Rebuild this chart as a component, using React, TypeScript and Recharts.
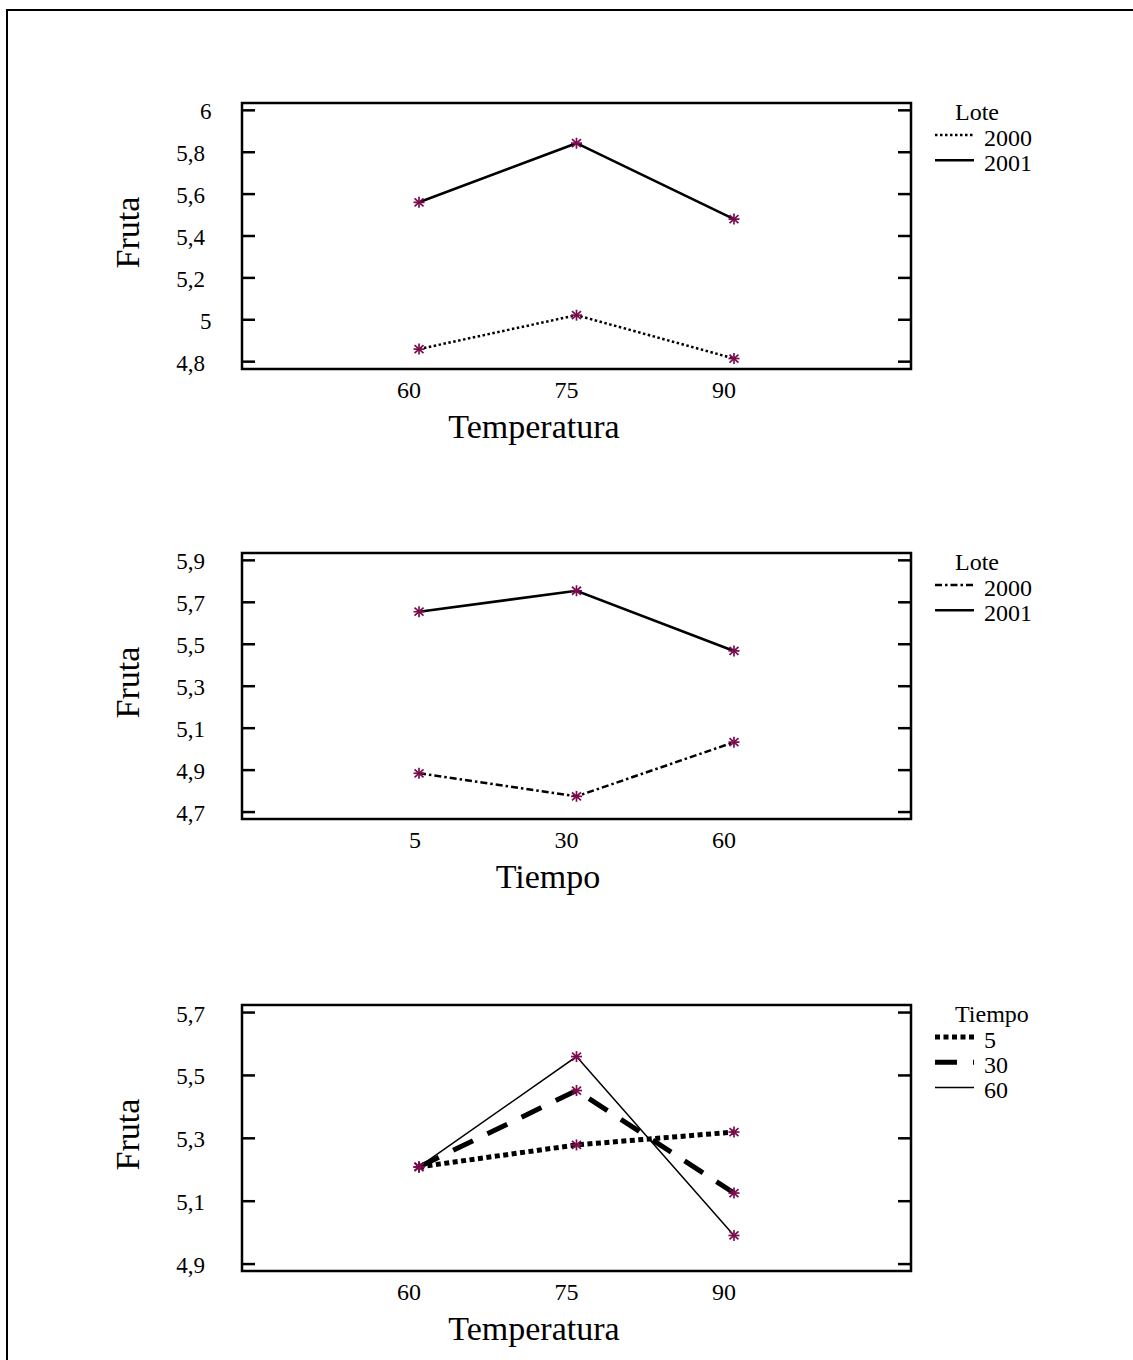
import React from 'react';
import { LineChart, Line, XAxis, YAxis, ReferenceArea, Customized } from 'recharts';

// Category labels of the factors
const temperaturaLabels = ['60', '75', '90'];
const tiempoLabels = ['5', '30', '60'];

// Mean "Fruta" values per factor level
const lote2000PorTemperatura = [4.86, 5.022, 4.815];
const lote2001PorTemperatura = [5.561, 5.843, 5.481];
const lote2000PorTiempo = [4.885, 4.775, 5.033];
const lote2001PorTiempo = [5.655, 5.755, 5.468];
const tiempo5PorTemperatura = [5.209, 5.279, 5.32];
const tiempo30PorTemperatura = [5.209, 5.452, 5.126];
const tiempo60PorTemperatura = [5.209, 5.56, 4.991];

// Y tick values of each panel
const frutaTicksTemperatura = [4.8, 5, 5.2, 5.4, 5.6, 5.8, 6];
const frutaTicksTiempo = [4.7, 4.9, 5.1, 5.3, 5.5, 5.7, 5.9];
const frutaTicksInteraccion = [4.9, 5.1, 5.3, 5.5, 5.7];

// Layout
const W = 1133;
const CH = 460;
const MT = 100;
const PH = 266;
const PL = 242;
const PR = 911;
const YAW = 60;
const XAH = 40;
const X_DOMAIN: [number, number] = [-1.124, 3.124];
const FONT = 'Liberation Serif, Times New Roman, Times, serif';
const MARK = '#7B0D4E';

type Serie = { name: string; values: number[]; dash?: string; width: number };

type PanelProps = {
  top: number;
  categories: string[];
  series: Serie[];
  yTicks: number[];
  yDomain: [number, number];
  xTitle: string;
  xTitleCenter: number;
  legendTitle: string;
};

const textStyle = (size: number): React.CSSProperties => ({ fontFamily: FONT, fontSize: size });

const Asterisk = (p: any) => {
  const { cx, cy } = p;
  if (cx == null || cy == null) return <g />;
  return (
    <g stroke={MARK} strokeWidth={1.7} strokeDasharray="none">
      <line x1={cx - 5.5} x2={cx + 5.5} y1={cy} y2={cy} />
      <line x1={cx} x2={cx} y1={cy - 5.5} y2={cy + 5.5} />
      <line x1={cx - 4.5} y1={cy - 4} x2={cx + 4.5} y2={cy + 4} />
      <line x1={cx - 4.5} y1={cy + 4} x2={cx + 4.5} y2={cy - 4} />
    </g>
  );
};

const yTick = (p: any) => {
  const v: number = p.payload.value;
  const label = String(v).replace('.', ',');
  const whole = Number.isInteger(v);
  return (
    <g>
      <line x1={PL} x2={PL + 13} y1={p.y} y2={p.y} stroke="#000" strokeWidth={2.5} />
      <line x1={PR - 13} x2={PR} y1={p.y} y2={p.y} stroke="#000" strokeWidth={2.5} />
      <text x={whole ? 211.5 : 205} y={p.y + 9} textAnchor="end" style={textStyle(23)} fill="#000">
        {label}
      </text>
    </g>
  );
};

const Panel = ({ top, categories, series, yTicks, yDomain, xTitle, xTitleCenter, legendTitle }: PanelProps) => {
  const data = categories.map((c, i) => {
    const row: Record<string, number | string> = { i, c };
    series.forEach((s, k) => {
      row[`s${k}`] = s.values[i];
    });
    return row;
  });

  const xTick = (p: any) => (
    <text x={p.x + 2} y={MT + PH + 29} textAnchor="end" style={textStyle(24)} fill="#000">
      {categories[p.payload.value]}
    </text>
  );

  const Decor = () => (
    <g fill="#000">
      <text
        x={139}
        y={MT + PH / 2 - 3.5}
        transform={`rotate(-90 139 ${MT + PH / 2 - 3.5})`}
        textAnchor="middle"
        style={textStyle(34)}
      >
        Fruta
      </text>
      <text x={xTitleCenter} y={MT + PH + 68.5} textAnchor="middle" style={textStyle(34)}>
        {xTitle}
      </text>
      <text x={955} y={MT + 17.3} style={textStyle(24)}>
        {legendTitle}
      </text>
      {series.map((s, k) => (
        <g key={s.name}>
          <line
            x1={935}
            x2={974}
            y1={MT + 32 + 25.3 * k}
            y2={MT + 32 + 25.3 * k}
            stroke="#000"
            strokeWidth={s.width}
            strokeDasharray={s.dash}
          />
          <text x={984} y={MT + 42.5 + 25 * k} style={textStyle(24)}>
            {s.name}
          </text>
        </g>
      ))}
    </g>
  );

  return (
    <div style={{ position: 'absolute', left: 0, top: top - MT }}>
      <LineChart
        width={W}
        height={CH}
        data={data}
        margin={{ top: MT, left: PL - YAW, right: W - PR, bottom: CH - MT - PH - XAH }}
      >
        <XAxis
          dataKey="i"
          type="number"
          domain={X_DOMAIN}
          ticks={[0, 1, 2]}
          interval={0}
          axisLine={false}
          tickLine={false}
          tick={xTick}
          height={XAH}
        />
        <YAxis
          type="number"
          domain={yDomain}
          ticks={yTicks}
          interval={0}
          axisLine={false}
          tickLine={false}
          tick={yTick}
          width={YAW}
          allowDataOverflow
        />
        <ReferenceArea
          x1={X_DOMAIN[0]}
          x2={X_DOMAIN[1]}
          y1={yDomain[0]}
          y2={yDomain[1]}
          fill="none"
          stroke="#000"
          strokeWidth={2.5}
          ifOverflow="visible"
        />
        {series.map((s, k) => (
          <Line
            key={s.name}
            type="linear"
            dataKey={`s${k}`}
            stroke="#000"
            strokeWidth={s.width}
            strokeDasharray={s.dash}
            dot={(p: any) => <Asterisk key={`d${k}-${p.index}`} {...p} />}
            activeDot={false}
            isAnimationActive={false}
          />
        ))}
        <Customized component={Decor} />
      </LineChart>
    </div>
  );
};

export default function App() {
  return (
    <div
      style={{
        position: 'fixed',
        left: 0,
        top: 0,
        width: W,
        height: 1360,
        overflow: 'hidden',
        background: '#fff',
      }}
    >
      <div
        style={{
          position: 'absolute',
          left: 6,
          top: 9,
          width: W,
          height: 1360,
          borderLeft: '2px solid #000',
          borderTop: '2px solid #000',
        }}
      />
      <Panel
        top={102.5}
        categories={temperaturaLabels}
        series={[
          { name: '2000', values: lote2000PorTemperatura, dash: '2.5 2.5', width: 2.5 },
          { name: '2001', values: lote2001PorTemperatura, width: 2.5 },
        ]}
        yTicks={frutaTicksTemperatura}
        yDomain={[4.765, 6.035]}
        xTitle="Temperatura"
        xTitleCenter={534}
        legendTitle="Lote"
      />
      <Panel
        top={553}
        categories={tiempoLabels}
        series={[
          { name: '2000', values: lote2000PorTiempo, dash: '7 3 2.5 3', width: 2.5 },
          { name: '2001', values: lote2001PorTiempo, width: 2.5 },
        ]}
        yTicks={frutaTicksTiempo}
        yDomain={[4.667, 5.935]}
        xTitle="Tiempo"
        xTitleCenter={548}
        legendTitle="Lote"
      />
      <Panel
        top={1004.5}
        categories={temperaturaLabels}
        series={[
          { name: '5', values: tiempo5PorTemperatura, dash: '5 3.5', width: 5 },
          { name: '30', values: tiempo30PorTemperatura, dash: '22 16', width: 5 },
          { name: '60', values: tiempo60PorTemperatura, width: 1.5 },
        ]}
        yTicks={frutaTicksInteraccion}
        yDomain={[4.878, 5.724]}
        xTitle="Temperatura"
        xTitleCenter={534}
        legendTitle="Tiempo"
      />
    </div>
  );
}
